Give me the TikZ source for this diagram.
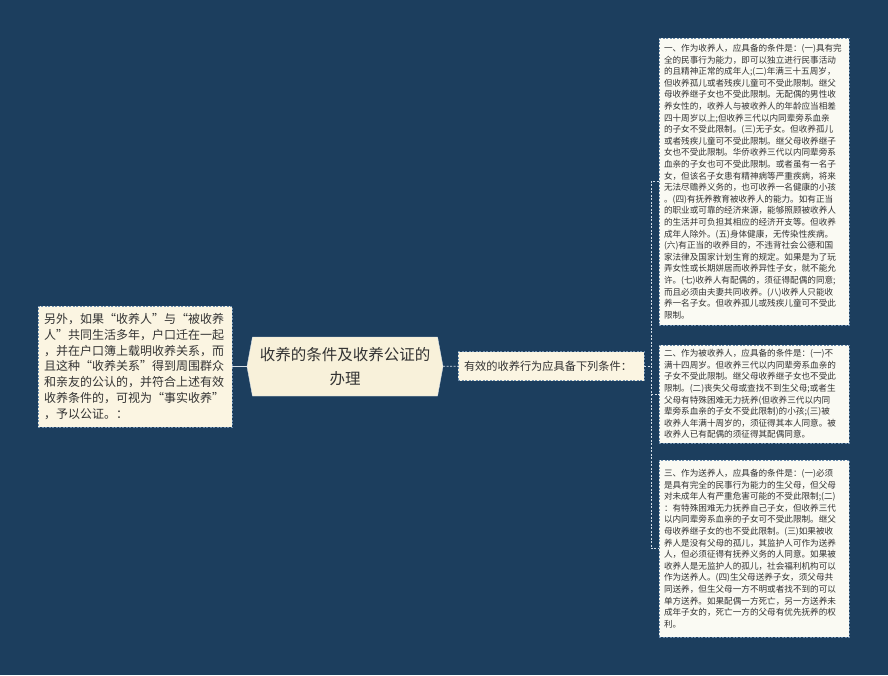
\documentclass[tikz,border=0pt]{standalone}
\usepackage{fontspec}
\setmainfont{Noto Sans CJK SC}
\usetikzlibrary{shapes.symbols}
\definecolor{bgblue}{HTML}{1C3E5E}
\definecolor{topicfill}{HTML}{F8F1DA}
\definecolor{notefill}{HTML}{FBF5E2}
\definecolor{leaffill}{HTML}{FAFAF3}
\definecolor{noteline}{HTML}{6F8FAF}
\definecolor{linkline}{HTML}{D5DFE9}
\definecolor{textgrey}{HTML}{333333}

\begin{document}
\begin{tikzpicture}[x=1pt, y=-1pt,
  topic/.style={signal, signal to=west and east, signal pointer angle=159, fill=topicfill, draw=linkline, minimum width=196pt, minimum height=59pt, inner sep=0pt, align=center, text=textgrey, font=\fontsize{15.5}{24}\selectfont},
  note/.style={draw=noteline, dash pattern=on 2pt off 1.5pt, fill=notefill, align=left, inner xsep=6pt, inner ysep=0pt, text=textgrey},
  leaf/.style={note, fill=leaffill, inner xsep=5pt, text width=180pt, font=\fontsize{8.6}{11.6}\selectfont},
  link/.style={draw=linkline, line width=0.8pt},
  dlink/.style={link, dash pattern=on 2pt off 1.5pt}]

  \fill[bgblue] (0,0) rectangle (888,675);
  \useasboundingbox (0,0) rectangle (888,675);

  \node[topic] (topic) at (345,366.5) {收养的条件及收养公证的\\办理};
  \node[note, text width=182pt, minimum height=121pt, font=\fontsize{12}{15.8}\selectfont] (extra) at (135,366.5) {另外，如果“收养人”与“被收养\\人”共同生活多年，户口迁在一起\\，并在户口簿上载明收养关系，而\\且这种“收养关系”得到周围群众\\和亲友的公认的，并符合上述有效\\收养条件的，可视为“事实收养”\\，予以公证。：};
  \node[note, text width=174pt, minimum height=29pt, font=\fontsize{11.2}{14}\selectfont] (valid) at (551,366) {有效的收养行为应具备下列条件：};

  \node[leaf, minimum height=287pt] (adopter) at (754,181.5) {一、作为收养人，应具备的条件是：(一)具有完\\全的民事行为能力，即可以独立进行民事活动\\的且精神正常的成年人;(二)年满三十五周岁，\\但收养孤儿或者残疾儿童可不受此限制。继父\\母收养继子女也不受此限制。无配偶的男性收\\养女性的，收养人与被收养人的年龄应当相差\\四十周岁以上;但收养三代以内同辈旁系血亲\\的子女不受此限制。(三)无子女。但收养孤儿\\或者残疾儿童可不受此限制。继父母收养继子\\女也不受此限制。华侨收养三代以内同辈旁系\\血亲的子女也可不受此限制。或者虽有一名子\\女，但该名子女患有精神病等严重疾病，将来\\无法尽赡养义务的，也可收养一名健康的小孩\\。(四)有抚养教育被收养人的能力。如有正当\\的职业或可靠的经济来源，能够照顾被收养人\\的生活并可负担其相应的经济开支等。但收养\\成年人除外。(五)身体健康，无传染性疾病。\\(六)有正当的收养目的，不违背社会公德和国\\家法律及国家计划生育的规定。如果是为了玩\\弄女性或长期姘居而收养异性子女，就不能允\\许。(七)收养人有配偶的，须征得配偶的同意;\\而且必须由夫妻共同收养。(八)收养人只能收\\养一名子女。但收养孤儿或残疾儿童可不受此\\限制。};
  \node[leaf, minimum height=98pt] (adoptee) at (754,394) {二、作为被收养人，应具备的条件是：(一)不\\满十四周岁。但收养三代以内同辈旁系血亲的\\子女不受此限制。继父母收养继子女也不受此\\限制。(二)丧失父母或查找不到生父母;或者生\\父母有特殊困难无力抚养(但收养三代以内同\\辈旁系血亲的子女不受此限制)的小孩;(三)被\\收养人年满十周岁的，须征得其本人同意。被\\收养人已有配偶的须征得其配偶同意。};
  \node[leaf, minimum height=177pt] (placer) at (754,548.5) {三、作为送养人，应具备的条件是：(一)必须\\是具有完全的民事行为能力的生父母，但父母\\对未成年人有严重危害可能的不受此限制;(二)\\：有特殊困难无力抚养自己子女，但收养三代\\以内同辈旁系血亲的子女可不受此限制。继父\\母收养继子女的也不受此限制。(三)如果被收\\养人是没有父母的孤儿，其监护人可作为送养\\人，但必须征得有抚养义务的人同意。如果被\\收养人是无监护人的孤儿，社会福利机构可以\\作为送养人。(四)生父母送养子女，须父母共\\同送养，但生父母一方不明或者找不到的可以\\单方送养。如果配偶一方死亡，另一方送养未\\成年子女的，死亡一方的父母有优先抚养的权\\利。};

  \coordinate (fork) at (651,366);

  \path
    (extra) edge[link] (topic)
    (topic) edge[dlink] (valid)
    (valid.east) edge[dlink] (fork)
    (adoptee.west -| fork) edge[dlink] (adoptee.west)
    ;
  \draw[dlink] (adopter.west) -- (adopter.west -| fork) -- (placer.west -| fork) -- (placer.west);
\end{tikzpicture}
\end{document}
